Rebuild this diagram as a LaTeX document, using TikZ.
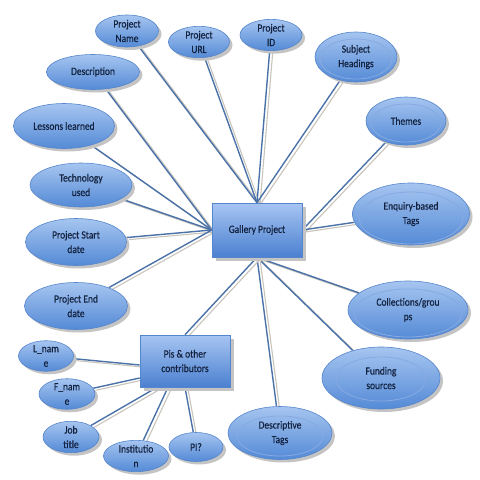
\documentclass[tikz,border=0pt]{standalone}
\usepackage{fontspec}
\setmainfont[FakeStretch=0.86, FakeBold=0.5]{Carlito}
\usetikzlibrary{shapes.geometric,shadows,backgrounds}

\definecolor{ellTop}{HTML}{A6C5F0}
\definecolor{ellBot}{HTML}{548AD6}
\definecolor{ellEdge}{HTML}{5585CC}
\definecolor{ringEdge}{HTML}{86AAE2}
\definecolor{boxTop}{HTML}{A7C5F2}
\definecolor{boxBot}{HTML}{4B80D0}
\definecolor{txtNavy}{HTML}{13223F}
\definecolor{linkBlue}{HTML}{4A72A8}
\definecolor{linkGrey}{HTML}{C8C4BC}
\definecolor{shadowGrey}{HTML}{C4C4C4}

\tikzset{
  attr/.style={ellipse, draw=ellEdge, line width=0.6pt, top color=ellTop, bottom color=ellBot,
    inner sep=0pt, align=center, text=txtNavy, font=\fontsize{11}{14.5}\selectfont,
    drop shadow={shadow xshift=3pt, shadow yshift=-3pt, fill=shadowGrey, opacity=1}},
  entity/.style={rectangle, draw=ellEdge, line width=0.6pt, top color=boxTop, bottom color=boxBot,
    inner sep=0pt, align=center, text=txtNavy, font=\fontsize{11}{14.5}\selectfont,
    drop shadow={shadow xshift=4pt, shadow yshift=-4pt, fill=shadowGrey, opacity=1}},
  ringline/.style={draw=ringEdge, line width=0.8pt},
  link/.style={draw=linkBlue, line width=1.4pt},
  linkshade/.style={draw=linkGrey, line width=1.1pt, transform canvas={xshift=3pt, yshift=-2pt}}
}

\begin{document}
\begin{tikzpicture}[x=1pt, y=-1pt]
    \useasboundingbox (0,0) rectangle (480,480);

    % central entities
    \node [entity, minimum width=90, minimum height=54] (gal) at (257,230) {Gallery Project};
    \node [entity, minimum width=90, minimum height=52] (pis) at (185,361) {Pis \& other\\contributors};

    % attributes of the gallery project
    \node [attr, minimum width=63, minimum height=32] (pname) at (127,31) {Project\\Name};
    \node [attr, minimum width=61, minimum height=30] (purl) at (199,42) {Project\\URL};
    \node [attr, minimum width=62, minimum height=30] (pid) at (271,35) {Project\\ID};
    \node [attr, minimum width=82, minimum height=50] (subj) at (356,57) {Subject\\Headings};
    \node [attr, minimum width=80, minimum height=48] (themes) at (406,121) {Themes};
    \node [attr, minimum width=93, minimum height=35] (desc) at (93,72) {Description};
    \node [attr, minimum width=101, minimum height=45] (lessons) at (64,126) {Lessons learned};
    \node [attr, minimum width=102, minimum height=44] (tech) at (81,185) {Technology\\used};
    \node [attr, minimum width=101, minimum height=47] (start) at (76,242) {Project Start\\date};
    \node [attr, minimum width=103, minimum height=47] (end) at (76,306) {Project End\\date};
    \node [attr, minimum width=117, minimum height=62] (enq) at (411,214) {Enquiry-based\\Tags};
    \node [attr, minimum width=120, minimum height=58] (coll) at (408,310) {Collections/grou\\ps};
    \node [attr, minimum width=118, minimum height=62] (fund) at (381,378) {Funding\\sources};
    \node [attr, minimum width=104, minimum height=53] (descr) at (280,433) {Descriptive\\Tags};

    % attributes of the contributors
    \node [attr, minimum width=55, minimum height=28] (lname) at (46,356) {L\_nam\\e};
    \node [attr, minimum width=56, minimum height=28] (fname) at (67,394) {F\_nam\\e};
    \node [attr, minimum width=56, minimum height=30] (job) at (71,437) {Job\\title};
    \node [attr, minimum width=65, minimum height=28] (inst) at (136,456) {Institutio\\n};
    \node [attr, minimum width=54, minimum height=29] (pi) at (196,447) {PI?};

    % inner rings
    \foreach \n/\rx/\ry/\dy in {subj/36/20/2, themes/35/19/2, enq/52/26/4, coll/54/24/3, fund/45/22/1, descr/43/20/3}
        \draw [ringline] ([yshift=-\dy pt]\n.center) ellipse (\rx pt and \ry pt);

    % meeting points
    \coordinate (gtop) at (gal.north);
    \coordinate (gleft) at (gal.west);
    \coordinate (gright) at (gal.east);
    \coordinate (gbot) at (gal.south);
    \coordinate (pl1) at ([yshift=-4pt]pis.west);
    \coordinate (pl2) at ([yshift=-17pt]pis.west);
    \coordinate (pb1) at ([xshift=-28pt]pis.south);
    \coordinate (pb2) at ([xshift=-17pt]pis.south);
    \coordinate (pb3) at (pis.south);
    \coordinate (ptop) at (pis.north);

    \begin{scope}[on background layer]
        \foreach \a/\b in {pname/gtop, purl/gtop, pid/gtop, subj/gtop,
                           desc/gleft, lessons/gleft, tech/gleft, start/gleft, end/gleft,
                           themes/gright, enq/gright,
                           coll/gbot, fund/gbot, descr/gbot, ptop/gbot,
                           lname/pl1, fname/pl2, job/pb1, inst/pb2, pi/pb3} {
            \draw [linkshade] (\a) -- (\b);
            \draw [link] (\a) -- (\b);
        }
    \end{scope}
\end{tikzpicture}
\end{document}
